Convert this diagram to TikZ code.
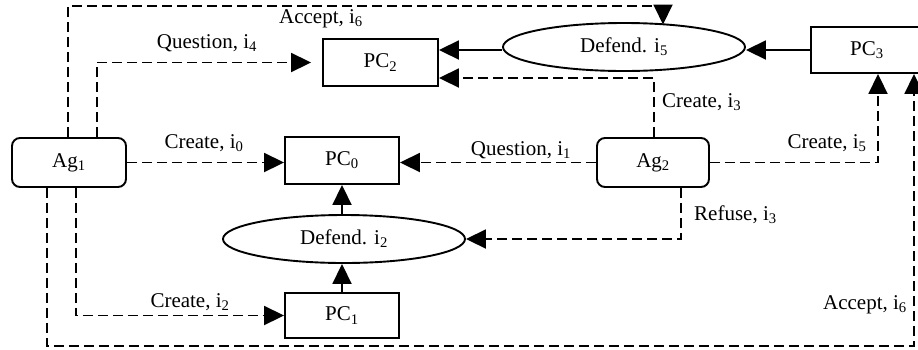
\documentclass[tikz,border=0pt]{standalone}
\usepackage{fontspec}
\setmainfont{Liberation Serif}
\usetikzlibrary{arrows.meta,shapes.geometric}
\begin{document}
\begin{tikzpicture}[x=1pt,y=-1pt,
  font=\fontsize{21}{24}\selectfont,
  box/.style={draw,line width=1.9pt,minimum width=114pt,minimum height=47pt,inner sep=0pt},
  agent/.style={box,rounded corners=8pt},
  oval/.style={draw,ellipse,line width=1.9pt,minimum width=242pt,minimum height=48pt,inner sep=0pt},
  tip/.style={-{Triangle[length=20pt,width=19pt]}},
  dl/.style={line width=1.9pt,dash pattern=on 10pt off 5pt,tip},
  sl/.style={line width=1.9pt,tip},
  lbl/.style={inner sep=0pt}]
\fill[white] (0,0) rectangle (918,349);
\useasboundingbox (0,0) rectangle (918,349);

% nodes
\node[agent, minimum width=114pt, minimum height=49pt] (Ag1) at (69,162.5) {Ag\textsubscript{1}};
\node[agent, minimum width=112pt, minimum height=49pt] (Ag2) at (653,162.5) {Ag\textsubscript{2}};
\node[box] (PC0) at (342,160.5) {PC\textsubscript{0}};
\node[box, minimum height=45pt] (PC1) at (342,315.5) {PC\textsubscript{1}};
\node[box, minimum width=115pt] (PC2) at (380.5,62.5) {PC\textsubscript{2}};
\node[box, minimum width=112pt, minimum height=46pt] (PC3) at (867,50) {PC\textsubscript{3}};
\node[oval] (D5) at (624,47) {Defend. i\textsubscript{5}};
\node[oval] (D2) at (344,239) {Defend. i\textsubscript{2}};

% helper coordinates
\coordinate (topR) at (663,6);
\coordinate (d5in) at (663,24.5);
\coordinate (bot) at (914,346);

% connectors
\draw[dl] ([xshift=-1pt]Ag1.north) |- (topR) -- (d5in);
\draw[dl, shorten >=11pt] ([xshift=28pt]Ag1.north) |- (PC2.west);
\draw[dl] (Ag1.east) -- (Ag1.east -| PC0.west);
\draw[dl] (Ag2.west) -- (Ag2.west -| PC0.east);
\draw[dl] (Ag2.east) -| ([xshift=11pt]PC3.south);
\draw[dl] ([xshift=-22pt]Ag1.south) |- (bot) -- ([xshift=47pt]PC3.south);
\draw[dl] ([xshift=7pt]Ag1.south) |- (PC1.west);
\draw[dl] ([xshift=1pt]Ag2.north) |- ([yshift=-15.5pt]PC2.east);
\draw[sl] (D5.west |- PC3.west) -- (PC3.west -| PC2.east);
\draw[sl] (PC3.west) -- (PC3.west -| D5.east);
\draw[dl] ([xshift=28pt]Ag2.south) |- (D2.east);
\draw[sl] (PC1.north) -- (PC1.north |- D2.south);
\draw[sl] (PC0.south |- D2.north) -- (PC0.south);

% labels
\node[lbl] (la6) at (321,19) {Accept, i\textsubscript{6}};
\node[lbl] (lq4) at (207,43) {Question, i\textsubscript{4}};
\node[lbl] (lc0) at (204,143) {Create, i\textsubscript{0}};
\node[lbl] (lq1) at (521,150) {Question, i\textsubscript{1}};
\node[lbl, anchor=west] (lc3) at (662,102) {Create, i\textsubscript{3}};
\node[lbl] (lc5) at (827,143) {Create, i\textsubscript{5}};
\node[lbl, anchor=west] (lr3) at (694,215) {Refuse, i\textsubscript{3}};
\node[lbl, anchor=east] (lb6) at (907,305) {Accept, i\textsubscript{6}};
\node[lbl] (lc2) at (190,302) {Create, i\textsubscript{2}};
\end{tikzpicture}
\end{document}
